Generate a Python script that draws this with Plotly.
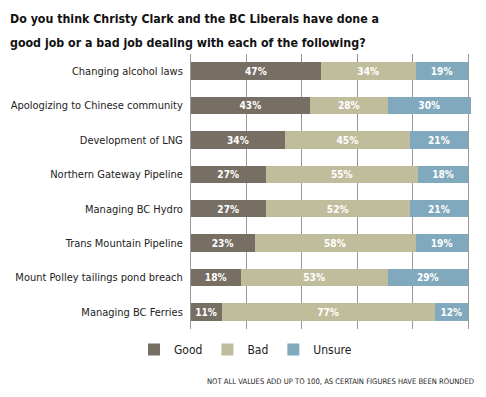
import plotly.graph_objects as go

categories = [
    "Changing alcohol laws",
    "Apologizing to Chinese community",
    "Development of LNG",
    "Northern Gateway Pipeline",
    "Managing BC Hydro",
    "Trans Mountain Pipeline",
    "Mount Polley tailings pond breach",
    "Managing BC Ferries",
]
good = [47, 43, 34, 27, 27, 23, 18, 11]
bad = [34, 28, 45, 55, 52, 58, 53, 77]
unsure = [19, 30, 21, 18, 21, 19, 29, 12]
series_names = ["Good", "Bad", "Unsure"]
colors = ["#776e64", "#bfbd9c", "#80a9bd"]

title_lines = ["Do you think Christy Clark and the BC Liberals have done a",
               "good job or a bad job dealing with each of the following?"]
note = "NOT ALL VALUES ADD UP TO 100, AS CERTAIN FIGURES HAVE BEEN ROUNDED"

cond = "DejaVu Sans Condensed, sans-serif"

# page body adds an 8px offset; figure coordinates are reference minus 8
W, H = 478, 389
L, T, R, B = 183, 46, 15, 68
PW, PH = W - L - R, H - T - B

def px(x):
    return (x - L) / PW

def py(y):
    return 1 - (y - T) / PH

fig = go.Figure()
for name, vals, col in zip(series_names, [good, bad, unsure], colors):
    fig.add_trace(go.Bar(
        y=categories, x=vals, name=name, orientation="h",
        marker=dict(color=col, line=dict(width=0)),
        text=[f"<b>{v}%</b>" for v in vals], textposition="inside",
        insidetextanchor="middle",
        textfont=dict(color="white", size=10.5, family="DejaVu Sans Condensed"),
        hoverinfo="skip",
    ))

annotations = []
for i, line in enumerate(title_lines):
    annotations.append(dict(text="<b>" + line + "</b>", xref="paper", yref="paper",
                            showarrow=False, x=px(0), y=py(11 + 24 * i),
                            xanchor="left", yanchor="middle", align="left",
                            font=dict(family=cond, size=12.3, color="#111")))
annotations.append(dict(text=note, xref="paper", yref="paper", showarrow=False,
                        x=px(468), y=py(373), xanchor="right", yanchor="middle",
                        font=dict(family=cond, size=7.6, color="#222")))

fig.update_layout(
    barmode="stack",
    bargap=0.49,
    width=W, height=H,
    margin=dict(l=L, r=R, t=T, b=B, autoexpand=False),
    paper_bgcolor="white", plot_bgcolor="white",
    uniformtext=dict(minsize=10, mode="show"),
    xaxis=dict(range=[0, 101], tickvals=[0, 20, 40, 60, 80, 100], showticklabels=False,
               showgrid=True, gridcolor="#9a9a9a", gridwidth=1, zeroline=False,
               showline=False, fixedrange=True, automargin=False),
    yaxis=dict(autorange="reversed", showgrid=False, ticks="", ticklabelstandoff=5,
               tickfont=dict(family=cond, size=11, color="#222"), automargin=False,
               showline=True, linecolor="#9a9a9a", linewidth=1),
    legend=dict(orientation="h", xref="container", yref="container",
                x=126/W, y=1 - 327/H, xanchor="left", yanchor="top",
                traceorder="normal",
                font=dict(family=cond, size=12, color="#222")),
    annotations=annotations,
)

fig.write_html("out.html")
